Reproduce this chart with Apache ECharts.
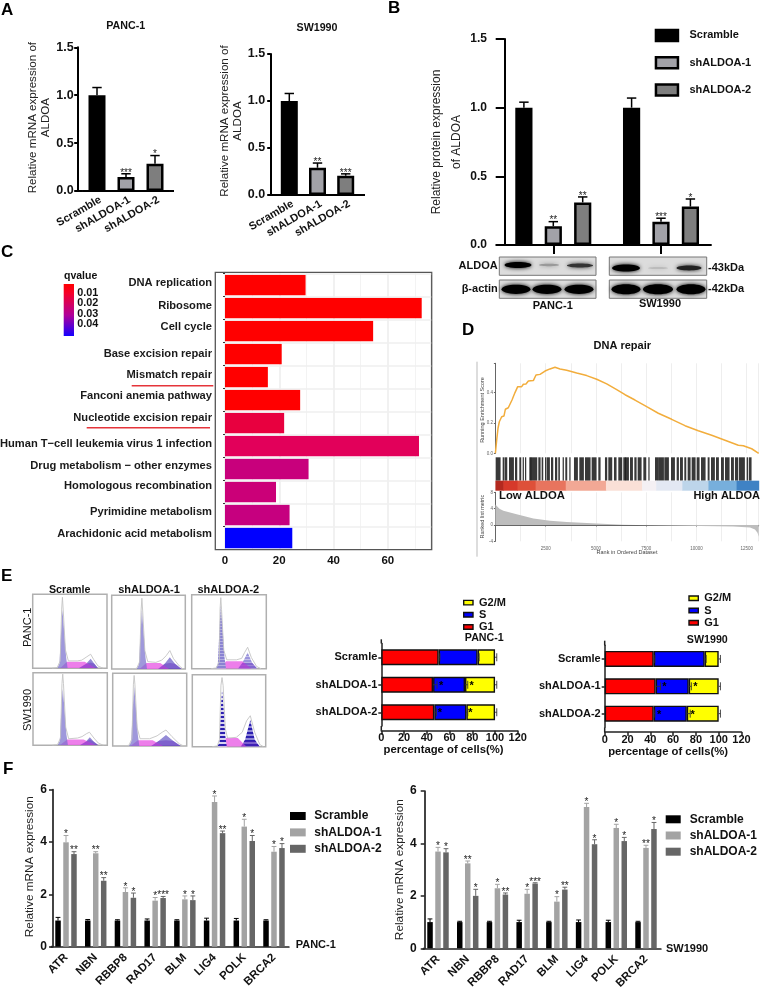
<!DOCTYPE html>
<html><head><meta charset="utf-8">
<style>html,body{margin:0;padding:0;background:#fff}#c{width:761px;height:991px}</style>
<script src="https://cdn.jsdelivr.net/npm/echarts@6/dist/echarts.min.js"></script>
</head><body><div id="c"></div>
<script>
// ---------- DATA ----------
const knockCats = ['Scramble','shALDOA-1','shALDOA-2'];
const aPancVals = [1.0,0.145,0.285], aPancErr = [1.08,0.18,0.37], aPancStars = ['','***','*'];
const aSwVals = [1.0,0.29,0.205], aSwErr = [1.08,0.34,0.225], aSwStars = ['','**','***'];
const bCats = ['PANC-1','SW1990'];
const bScramble = [1.0,1.0], bScrambleErr = [1.04,1.07];
const bSh1 = [0.137,0.17], bSh1Err = [0.17,0.195], bSh1Stars = ['**','***'];
const bSh2 = [0.31,0.28], bSh2Err = [0.35,0.335], bSh2Stars = ['**','*'];
const pathways = ['DNA replication','Ribosome','Cell cycle','Base excision repair','Mismatch repair','Fanconi anemia pathway','Nucleotide excision repair','Human T\u2212cell leukemia virus 1 infection','Drug metabolism \u2212 other enzymes','Homologous recombination','Pyrimidine metabolism','Arachidonic acid metabolism'];
const pathwayCounts = [29.7,72.5,54.6,20.9,15.8,27.7,21.8,71.5,30.8,18.8,23.8,24.8];
const pathwayColors = ['#ff0000','#ff0000','#ff0000','#ff0000','#ff0000','#ff0000','#e8003f','#e2005a','#c8007c','#cb0078','#c6007f','#0000ff'];
const pathwayLabelLift = [3.4,2.6,7.4,0,3.4,6,8.6,2,4,10.6,4.6,6];
const qTicks = ['0.01','0.02','0.03','0.04'];
const esCurve = [[0,0],[65,.088],[130,.165],[195,.208],[313,.241],[428,.246],[495,.29],[642,.30],[726,.297],[826,.351],[975,.40],[1110,.439],[1308,.439],[1390,.455],[1522,.457],[1640,.476],[1887,.479],[2020,.516],[2220,.52],[2470,.542],[2716,.556],[2965,.567],[3214,.556],[3547,.547],[4045,.529],[4542,.512],[5040,.488],[5538,.457],[6035,.419],[6450,.386],[6945,.351],[7527,.307],[8105,.264],[8771,.224],[9433,.182],[10095,.149],[10761,.119],[11423,.086],[12085,.053],[12334,.05],[12751,.03],[13100,0]];
const rugRanges = [[13,228],[361,427],[477,560],[676,892],[975,1057],[1190,1256],[1356,1389],[1472,1505],[1687,1754],[1754,2052],[2135,2218],[2301,2351],[2467,2500],[2550,2682],[2765,2848],[2964,3047],[3130,3180],[3345,3378],[3478,3544],[3677,3710],[3909,4075],[4174,4373],[4456,4705],[4788,5004],[5120,5203],[5451,5534],[5617,5783],[5899,5998],[6114,6280],[6363,6446],[6448,6614],[6697,6813],[6912,6995],[7078,7244],[7360,7476],[7609,7642],[7940,8106],[8139,8355],[8404,8603],[8736,8902],[9018,9101],[9184,9300],[9399,9466],[9565,9681],[9764,9930],[10013,10129],[10228,10427],[10560,10626],[10726,10891],[10974,11090],[11223,11339],[11422,11621],[11721,11837],[11919,12052],[12118,12383],[12499,12549],[12616,12715]];
const bandRanges = [[0,400],[400,1100],[1100,2000],[2000,3500],[3500,5500],[5500,7300],[7300,8000],[8000,9300],[9300,10600],[10600,12000],[12000,13100]];
const bandColors = ['#b3291f','#d6392a','#de5039','#e8745e','#f2a895','#fae0d7','#f4f0f4','#e3e8f3','#bdd5ea','#77afdc','#3f82c4'];
const rankMetric = [[0,5],[60,4.6],[200,4.0],[398,3.5],[1060,2.6],[1890,1.6],[2720,1.05],[3550,.73],[5040,.33],[6370,.08],[7030,0],[8520,-.1],[10180,-.25],[11840,-.4],[12670,-.6],[12915,-1.1],[13040,-1.9],[13100,-2.9]];
// cell-cycle histograms (position and height as % of each frame)
const histG1 = [
 [[33,0],[36,6],[38.5,55],[40,79],[42,55],[45,15],[47,0]], [[34,0],[37,6],[39.5,55],[41,80],[43,55],[46,15],[48,0]], [[32,0],[35,6],[37.5,60],[39,86],[41,60],[44,15],[46,0]],
 [[33,0],[36,6],[38.5,55],[40,78],[42,55],[45,15],[47,0]], [[22,0],[25,6],[27.5,58],[29,82],[31,58],[34,15],[36,0]], [[34,0],[37,6],[39,55],[40.5,79],[42.5,55],[45,15],[47,0]]];
const histS = [
 [[37,0],[46,9],[70,9],[85,0]], [[38,0],[47,8],[66,8],[78,0]], [[37,0],[46,10],[68,10],[80,0]],
 [[36,0],[46,8],[68,8],[85,0]], [[24,0],[34,8],[54,8],[68,0]], [[36,0],[46,12],[62,12],[74,0]]];
const histG2 = [
 [[62,0],[72,6],[78,13],[83,6],[88,0]], [[63,0],[72,7],[79,16],[86,7],[95,0]], [[62,0],[68,8],[75,22],[81,8],[88,0]],
 [[63,0],[71,5],[76.5,11],[82,5],[88,0]], [[52,0],[62,7],[72,15],[82,7],[92,0]], [[66,0],[72,10],[79,37],[85,10],[92,0]]];
const histOutline = [
 [[26,0],[33,1],[37,10],[39,80],[40,96],[41,80],[44,25],[48,10],[60,10],[66,11],[72,15],[78,19],[82,12],[88,3],[95,0]],
 [[27,0],[34,1],[38,10],[40,80],[41,96],[42,80],[45,25],[49,10],[60,9],[68,12],[74,18],[79,25],[84,14],[92,4],[97,0]],
 [[26,0],[33,1],[37,10],[38,80],[39,96],[40,80],[43,25],[47,12],[60,12],[67,14],[71,22],[75,29],[80,15],[87,3],[93,0]],
 [[26,0],[33,1],[37,10],[39,85],[40,98],[41,85],[44,25],[48,9],[60,10],[66,12],[72,16],[76,18],[82,10],[88,3],[95,0]],
 [[15,0],[22,1],[26,10],[28,85],[29,97],[30,85],[33,25],[37,10],[50,10],[60,14],[67,19],[72,22],[80,13],[90,3],[96,0]],
 [[27,0],[34,1],[37,10],[39,85],[40.5,96],[42,85],[45,25],[48,12],[60,13],[68,20],[74,36],[79,43],[85,20],[92,3],[97,0]]];
const histFrames = [[32.7,594.3,74.3,74],[111.7,595.3,73.6,73.7],[191.7,594.7,74.6,74],[33,672.7,74.3,72.6],[112.7,673.3,74,72.7],[192.3,674.7,73.4,72]];
const cellCats = ['Scramle','shALDOA-1','shALDOA-2'];
const pancG1 = [50.4,45.5,46.6], pancS = [34.3,28.1,28.2], pancG2 = [15.3,26.4,25.2];
const pancG1Err = [51.5,49,48.5], pancSErr = [86,76,76], pancG2Err = [101.5,101.5,101.5];
const pancStars = [[1,52.5],[1,79.5],[2,51.6],[2,78.3]];
const swG1 = [43,44.7,43], swS = [44.7,29,29], swG2 = [12.3,26.3,28];
const swG1Err = [44,49,44], swSErr = [89,76,75], swG2Err = [101.5,101.5,101.5];
const swStars = [[1,52.3],[1,79.5],[2,47.7],[2,77.2]];
const genes = ['ATR','NBN','RBBP8','RAD17','BLM','LIG4','POLK','BRCA2'];
const f1Scr = [1,1,1,1,1,1,1,1], f1ScrErr = [1.12,1.04,1.03,1.06,1.03,1.09,1.08,1.03];
const f1Sh1 = [3.99,3.57,2.09,1.76,1.81,5.53,4.59,3.63], f1Sh1Err = [4.25,3.63,2.25,1.88,1.94,5.76,4.87,3.83];
const f1Sh2 = [3.54,2.52,1.87,1.86,1.78,4.34,4.04,3.77], f1Sh2Err = [3.63,2.64,2.05,1.92,1.94,4.42,4.25,3.94];
const f1Sh1Stars = ['*','**','*','*','*','*','*','*'], f1Sh2Stars = ['**','**','*','***','*','**','*','*'];
const f2Scr = [1,1,1,1,1,1,1,1], f2ScrErr = [1.12,1.03,1.03,1.07,1.03,1.08,1.07,1.03];
const f2Sh1 = [3.69,3.24,2.29,2.08,1.78,5.39,4.59,3.83], f2Sh1Err = [3.85,3.33,2.44,2.25,1.97,5.53,4.73,3.93];
const f2Sh2 = [3.66,2.0,2.05,2.47,2.24,3.97,4.09,4.55], f2Sh2Err = [3.8,2.25,2.11,2.5,2.33,4.14,4.23,4.8];
const f2Sh1Stars = ['*','**','*','*','*','*','*','**'], f2Sh2Stars = ['*','*','**','***','**','*','*','*'];
// western blot bands: x centre, y centre, half width, half height, colour
const blotBoxes = [[499.3,257,96.7,18.3],[609.3,257,97.4,18.3],[499.3,280,96.7,18.3],[609.3,280,97.4,18.3]];
const blotBands = [[518,265,13.5,3,'#000'],[549,265,10,1.2,'#999'],[580,265.5,13,2,'#333'],
 [626,268,14,3.6,'#000'],[658,268,10,1.1,'#bbb'],[689,268,12.5,2.4,'#222'],
 [516,289.3,14.5,4.6,'#000'],[547,289.3,14.5,4.6,'#000'],[579,289.3,14.5,4.6,'#000'],
 [626,289.3,14.5,5,'#000'],[658,289.3,15,5,'#000'],[691,289.3,14.5,5,'#000']];

// ---------- BUILDERS ----------
const FF = '"Liberation Sans", Arial, sans-serif';
const grid=[], xAxis=[], yAxis=[], series=[], legend=[], gfx=[];
function T(text,x,y,o={}){gfx.push({type:'text',x,y,rotation:o.rot||0,silent:true,z:50,style:{text,fontFamily:FF,fontSize:o.size||11,fontWeight:o.bold===false?'normal':'bold',fill:o.color||'#111',align:o.align||'center',verticalAlign:'middle',lineHeight:o.lh}});}
function L(x1,y1,x2,y2,c='#000',w=2,z=40){gfx.push({type:'line',silent:true,z,shape:{x1,y1,x2,y2},style:{stroke:c,lineWidth:w}});}
function addGrid(l,t,r,b,xa,ya,extra){const i=grid.length;grid.push(Object.assign({left:l,top:t,width:r-l,height:b-t,outerBoundsMode:'none'},extra||{}));xAxis.push(Object.assign({gridIndex:i},xa));yAxis.push(Object.assign({gridIndex:i},ya));return i;}
// error whisker + star, vertical; rows: [cat,value,top]
function errV(i,vals,tops,stars,dx,o={}){
  const data=vals.map((v,k)=>[k,v,tops[k]]);
  series.push({type:'custom',xAxisIndex:i,yAxisIndex:i,z:6,silent:true,clip:false,data,encode:{x:0,y:2},
    renderItem(p,api){const a=api.coord([api.value(0),api.value(1)]),b=api.coord([api.value(0),api.value(2)]);const x=a[0]+dx,cap=o.cap||4.7;
      const st={stroke:o.color||'#000',lineWidth:o.w||1.5};
      const ch=[{type:'line',shape:{x1:x,y1:a[1],x2:x,y2:b[1]},style:st},{type:'line',shape:{x1:x-cap,y1:b[1],x2:x+cap,y2:b[1]},style:st}];
      const s=stars&&stars[p.dataIndex];
      if(s)ch.push({type:'text',x,y:b[1]-(o.lift||1),style:{text:s,fontFamily:FF,fontSize:o.star||10,fill:'#222',align:'center',verticalAlign:'middle'}});
      return {type:'group',children:ch};}});
}
const axisText={color:'#111',fontFamily:FF,fontWeight:'bold'};
function kdPanel(l,axX,r,t,b,vals,errs,stars,labels){
  const i=addGrid(l,t,r,b,
   {type:'category',data:knockCats,axisLine:{lineStyle:{color:'#000',width:2}},axisTick:{length:5,alignWithLabel:true,lineStyle:{width:2,color:'#000'}},axisLabel:Object.assign({},axisText,{rotate:30,fontSize:11,margin:10,interval:0,padding:[0,-4,0,0]})},
   {type:'value',min:0,max:1.5,interval:0.5,offset:l-axX,axisLine:{show:true,lineStyle:{color:'#000',width:2}},axisTick:{show:true,length:3.5,lineStyle:{width:2,color:'#000'}},splitLine:{show:false},
    axisLabel:Object.assign({},axisText,{fontSize:12.5,margin:labels.margin,formatter:v=>v.toFixed(1)}),
    name:labels.name,nameLocation:'middle',nameGap:labels.gap,nameTextStyle:{fontFamily:FF,fontSize:11.6,lineHeight:13,color:'#222',padding:labels.pad}});
  series.push({name:'relative '+labels.title,type:'bar',xAxisIndex:i,yAxisIndex:i,barWidth:17,z:3,data:vals.map((v,k)=>({value:v,itemStyle:{color:['#000','#a2a2a8','#7e7e7e'][k],borderColor:'#000',borderWidth:2.5}}))});
  errV(i,vals,errs,stars,0);
  L(axX-1,b,l,b);L(r,b,labels.end,b);
}
kdPanel(82.5,77.7,169.5,47.3,191,aPancVals,aPancErr,aPancStars,{name:'Relative mRNA expression of\nALDOA',gap:25,pad:[0,0,0,3],title:'PANC-1',end:174,margin:4});
kdPanel(275.2,270.7,359.8,54,195,aSwVals,aSwErr,aSwStars,{name:'Relative mRNA expression of\nALDOA',gap:26,pad:[0,0,0,7],title:'SW1990',end:365,margin:5.5});
T('PANC-1',125.7,26,{size:10.7});T('SW1990',317,28,{size:10.7});

// B
{
 const i=addGrid(499.45,39,714.85,245,
  {type:'category',data:bCats,axisLine:{show:true,lineStyle:{color:'rgba(0,0,0,0)'}},axisTick:{show:true,length:9,alignWithLabel:true,lineStyle:{width:2,color:'#000'}},axisLabel:{show:false}},
  {type:'value',min:0,max:1.5,interval:.5,offset:-5.25,axisLine:{show:true,lineStyle:{color:'#000',width:2}},axisTick:{show:true,length:9,lineStyle:{width:2,color:'#000'}},splitLine:{show:false},
   axisLabel:Object.assign({},axisText,{fontSize:12,margin:17.7,formatter:v=>v.toFixed(1)}),
   name:'Relative protein expression\nof ALDOA',nameLocation:'middle',nameGap:30,nameTextStyle:{fontFamily:FF,fontSize:12,lineHeight:20,color:'#222'}});
 const st=c=>({color:c,borderColor:'#000',borderWidth:2.5});
 series.push({name:'Scramble',type:'bar',xAxisIndex:i,yAxisIndex:i,barWidth:17.2,barGap:'71%',z:3,data:bScramble,itemStyle:st('#000')});
 series.push({name:'shALDOA-1',type:'bar',xAxisIndex:i,yAxisIndex:i,barWidth:17.2,barGap:'71%',z:3,data:bSh1,itemStyle:st('#a2a2a8')});
 series.push({name:'shALDOA-2',type:'bar',xAxisIndex:i,yAxisIndex:i,barWidth:17.2,barGap:'71%',z:3,data:bSh2,itemStyle:st('#7e7e7e')});
 errV(i,bScramble,bScrambleErr,null,-29.4);
 errV(i,bSh1,bSh1Err,bSh1Stars,0);
 errV(i,bSh2,bSh2Err,bSh2Stars,29.4);
 L(495.7,245,711.7,245);
 legend.push({left:654.7,top:28.7,padding:0,orient:'vertical',itemWidth:22,itemHeight:11,itemGap:13.8,selectedMode:false,icon:'rect',
  textStyle:{fontFamily:FF,fontSize:11,fontWeight:'bold',color:'#111',lineHeight:11,padding:[0,0,0,6.5]},
  data:[{name:'Scramble',itemStyle:st('#000')},{name:'shALDOA-1',itemStyle:st('#a2a2a8')},{name:'shALDOA-2',itemStyle:st('#7e7e7e')}]});
 blotBoxes.forEach(b=>gfx.push({type:'rect',silent:true,z:10,shape:{x:b[0],y:b[1],width:b[2],height:b[3]},style:{fill:'#dcdcdc',stroke:'#777',lineWidth:1}}));
 blotBands.forEach(b=>gfx.push({type:'ellipse',silent:true,z:11,shape:{cx:b[0],cy:b[1],rx:b[2],ry:b[3]},style:{fill:b[4],shadowBlur:4,shadowColor:b[4]}}));
 T('ALDOA',497.7,266,{align:'right'});T('\u03b2-actin',497.7,289,{align:'right'});
 T('-43kDa',708,268,{align:'left'});T('-42kDa',708,289,{align:'left'});
 T('PANC-1',552.7,305.7);T('SW1990',660,304);
}

// C
{
 const labelRich={};
 pathwayLabelLift.forEach((h,k)=>{labelRich['p'+k]={color:'#1a1a1a',fontFamily:FF,fontWeight:'bold',fontSize:11.15,padding:[0,0,h,0]};});
 const i=addGrid(225,273,431.2,548.8,
  {type:'value',min:0,max:76,interval:20,axisLine:{show:false},axisTick:{show:false},
   axisLabel:Object.assign({},axisText,{fontSize:11.5,margin:6,formatter:v=>v%20===0?String(v):''}),
   splitLine:{show:true,lineStyle:{color:'#ececec',width:1.5}},minorTick:{show:false,splitNumber:2},minorSplitLine:{show:true,lineStyle:{color:'#f3f3f3',width:1}}},
  {type:'category',inverse:true,offset:10,data:pathways,
   axisLine:{show:false},axisTick:{show:true,length:2,lineStyle:{color:'#333',width:1}},
   axisLabel:{color:'#1a1a1a',fontFamily:FF,fontWeight:'bold',fontSize:11.15,margin:3,interval:0,rich:labelRich,formatter:(v,k)=>'{p'+k+'|'+v+'}'}});
 series.push({name:'guides',type:'bar',xAxisIndex:i,yAxisIndex:i,data:[],z:1,silent:true,markLine:{silent:true,symbol:'none',label:{show:false},lineStyle:{color:'#efefef',width:1.5,type:'solid'},data:pathways.map(p=>({yAxis:p}))}});
 series.push({name:'Gene count',type:'bar',xAxisIndex:i,yAxisIndex:i,barWidth:20.6,z:3,data:pathwayCounts.map((v,k)=>({value:v,itemStyle:{color:pathwayColors[k]}}))});
 gfx.push({type:'rect',silent:true,z:5,shape:{x:215.3,y:272.3,width:216.4,height:277.4},style:{fill:'none',stroke:'#555',lineWidth:1.3}});
 gfx.push({type:'rect',silent:true,z:5,shape:{x:63.7,y:284,width:10.3,height:52},style:{fill:new echarts.graphic.LinearGradient(0,0,0,1,[{offset:0,color:'#ff0000'},{offset:.18,color:'#f5002a'},{offset:.6,color:'#b0009a'},{offset:1,color:'#1400ff'}])}});
 T('qvalue',64,276,{align:'left',size:10.5});
 qTicks.forEach((q,k)=>T(q,77.3,[292.7,303.3,314,324.3][k],{align:'left',size:10.8}));
 L(131.7,385.7,213.3,385.7,'#e5343a',1.4);L(86.7,427.7,210,427.7,'#e5343a',1.4);
}

// D
{
 const light={color:'#eeeeee',width:1};
 const XT={type:'value',min:0,max:13100,interval:2500,axisLine:{show:false},axisTick:{show:false},axisLabel:{show:false},splitLine:{show:true,lineStyle:light},minorTick:{show:false,splitNumber:2},minorSplitLine:{show:true,lineStyle:light}};
 const a=addGrid(495.4,363.3,758.7,453.3,XT,{type:'value',min:0,max:.593,interval:.2,axisLine:{show:true,lineStyle:{color:'#666',width:1}},axisTick:{show:true,length:1.5,lineStyle:{color:'#666'}},splitLine:{show:false},
   axisLabel:{fontFamily:FF,fontSize:4.5,color:'#666',margin:2.5,formatter:v=>Math.abs(v*5-Math.round(v*5))<1e-6?v.toFixed(1):''}});
 series.push({name:'Running Enrichment Score',type:'line',xAxisIndex:a,yAxisIndex:a,data:esCurve,showSymbol:false,symbol:'none',clip:false,lineStyle:{color:'#f2ad3c',width:1.5},z:4});
 const r=addGrid(495.4,457.3,758.7,490.7,{type:'value',min:0,max:13100,show:false},{type:'value',min:0,max:1,show:false});
 series.push({name:'hits',type:'custom',xAxisIndex:r,yAxisIndex:r,silent:true,data:rugRanges,encode:{x:[0,1]},renderItem(p,api){const s=api.coord([api.value(0),1]),e=api.coord([api.value(1),.3]);return {type:'rect',shape:{x:s[0],y:s[1],width:e[0]-s[0]+.6,height:e[1]-s[1]},style:{fill:'rgba(0,0,0,.78)'}};}});
 series.push({name:'rank colours',type:'custom',xAxisIndex:r,yAxisIndex:r,silent:true,data:bandRanges,encode:{x:[0,1]},renderItem(p,api){const s=api.coord([api.value(0),.3]),e=api.coord([api.value(1),0]);return {type:'rect',shape:{x:s[0],y:s[1],width:e[0]-s[0]+.5,height:e[1]-s[1]},style:{fill:bandColors[p.dataIndex]}};}});
 const m=addGrid(495.4,492.3,758.7,541.3,Object.assign({},XT,{offset:2,axisLine:{show:true,lineStyle:{color:'#666',width:1}},axisTick:{show:true,length:1.5,lineStyle:{color:'#666'}},
     axisLabel:{show:true,fontFamily:FF,fontSize:4.5,color:'#666',margin:3,formatter:v=>v%2500===0&&v>0?String(v):''}}),
   {type:'value',min:-4,max:8,interval:4,axisLine:{show:true,lineStyle:{color:'#666',width:1}},axisTick:{show:true,length:1.5,lineStyle:{color:'#666'}},splitLine:{show:false},axisLabel:{fontFamily:FF,fontSize:4.5,color:'#666',margin:2.5}});
 series.push({name:'Ranked list metric',type:'line',xAxisIndex:m,yAxisIndex:m,data:rankMetric,showSymbol:false,symbol:'none',lineStyle:{width:0},areaStyle:{color:'#bdbdbd',opacity:1},z:3});
 L(477,361.7,477,556.7,'#bbb',1);
 T('DNA repair',622.3,345.7,{size:11});
 T('Low ALDOA',499,496.3,{align:'left',size:11.3});T('High ALDOA',760,496.3,{align:'right',size:11});
 T('Rank in Ordered Dataset',627,552.3,{size:5.5,bold:false,color:'#444'});
 T('Running Enrichment Score',482.3,410,{size:5.5,bold:false,rot:Math.PI/2,color:'#444'});
 T('Ranked list metric',482.3,516.7,{size:5.5,bold:false,rot:Math.PI/2,color:'#444'});
}

// E histograms
function stripes(a,b,h){const c=document.createElement('canvas');c.width=4;c.height=h;const g=c.getContext('2d');g.fillStyle=a;g.fillRect(0,0,4,h);g.fillStyle=b;g.fillRect(0,0,4,Math.ceil(h/2));return c;}
histFrames.forEach((f,n)=>{
 const i=addGrid(f[0],f[1],f[0]+f[2],f[1]+f[3],{type:'value',min:0,max:100,show:false},{type:'value',min:0,max:100,show:false},{show:true,borderColor:'#b0b0b0',borderWidth:1.5,backgroundColor:'#fff'});
 const g1col=n===2?{image:stripes('#b4aee2','#8a83d2',3),repeat:'repeat'}:n===5?{image:stripes('#d6d2f0','#2c1fb0',4),repeat:'repeat'}:'rgba(122,112,205,.72)';
 const g2col=n===2?{image:stripes('#c4bfe8','#9a94dc',3),repeat:'repeat'}:n===5?{image:stripes('#9088d8','#2c1fb0',4),repeat:'repeat'}:'rgba(98,84,195,.68)';
 const area=(name,data,color,z)=>series.push({name,type:'line',xAxisIndex:i,yAxisIndex:i,data,z,symbol:'none',silent:true,lineStyle:{width:0},areaStyle:{color,opacity:1}});
 area('G2 fit',histG2[n],g2col,3);
 area('S fit',histS[n],'rgba(232,90,228,.78)',4);
 area('G1 fit',histG1[n],g1col,5);
 series.push({name:'G2 overlap',type:'line',xAxisIndex:i,yAxisIndex:i,data:histG2[n].map(p=>[p[0],Math.min(p[1],8)]),z:5,symbol:'none',silent:true,lineStyle:{width:0},areaStyle:{color:'rgba(90,30,190,.55)'}});
 series.push({name:'measured',type:'line',xAxisIndex:i,yAxisIndex:i,data:histOutline[n],z:6,symbol:'none',silent:true,lineStyle:{color:'#c4c4c4',width:.9}});
});
T('Scramle',69.7,590,{size:10.7});T('shALDOA-1',149,590.3);T('shALDOA-2',228.3,590.3);
T('PANC-1',28.3,627.3,{bold:false,rot:Math.PI/2});T('SW1990',28,710,{bold:false,rot:Math.PI/2});

// E stacked
function cellPanel(l,t,b,r,g1,s,g2,eg1,es,eg2,stars,o){
 const i=addGrid(l,t,r,b,
  {type:'value',min:0,max:120,interval:20,offset:o.xOff,axisLine:{show:true,lineStyle:{color:'#222',width:1.5}},axisTick:{show:true,length:4,lineStyle:{color:'#222',width:1.5}},splitLine:{show:false},
   axisLabel:Object.assign({},axisText,{fontSize:11,margin:2}),name:'percentage of cells(%)',nameLocation:'middle',nameGap:14,nameTextStyle:{fontFamily:FF,fontWeight:'bold',fontSize:11.3,color:'#111',padding:[0,o.namePad||0,0,0]}},
  {type:'category',inverse:true,data:cellCats,axisLine:{show:true,onZero:false,lineStyle:{color:'#222',width:1.5}},axisTick:{show:true,length:3,alignWithLabel:true,lineStyle:{color:'#222',width:1.5}},axisLabel:Object.assign({},axisText,{fontSize:11,margin:4,interval:0})});
 const st=c=>({color:c,borderColor:'#111',borderWidth:1.4});
 [['G1',g1,'#ff0000'],['S',s,'#0000ff'],['G2/M',g2,'#ffff00']].forEach(d=>series.push({name:d[0],type:'bar',stack:'cell'+i,barWidth:16,xAxisIndex:i,yAxisIndex:i,data:d[1],itemStyle:st(d[2]),z:3}));
 const cum=[g1,g1.map((v,k)=>v+s[k]),g1.map((v,k)=>v+s[k]+g2[k])],errs=[eg1,es,eg2];
 cum.forEach((c,n)=>series.push({type:'custom',xAxisIndex:i,yAxisIndex:i,z:6,silent:true,clip:false,data:c.map((v,k)=>[k,v,errs[n][k]]),encode:{y:0,x:2},
  renderItem(p,api){const a=api.coord([api.value(1),api.value(0)]),e=api.coord([api.value(2),api.value(0)]);const sty={stroke:'#333',lineWidth:.9};return {type:'group',children:[{type:'line',shape:{x1:a[0],y1:a[1],x2:e[0],y2:a[1]},style:sty},{type:'line',shape:{x1:e[0],y1:a[1]-4,x2:e[0],y2:a[1]+4},style:sty}]};}}));
 series.push({type:'custom',xAxisIndex:i,yAxisIndex:i,z:7,silent:true,data:stars.map(s=>[s[1],s[0]]),encode:{x:0,y:1},renderItem(p,api){const a=api.coord([api.value(0),api.value(1)]);return {type:'text',x:a[0],y:a[1]+1,style:{text:'*',fontFamily:FF,fontSize:11,fontWeight:'bold',fill:'#000',align:'center',verticalAlign:'middle'}};}});
 L(l,o.top,l,t,'#222',1.5);L(l,b,l,b+o.xOff,'#222',1.5);
 legend.push({left:o.lx,top:o.ly,padding:0,orient:'vertical',itemWidth:9.3,itemHeight:4.5,itemGap:0,selectedMode:false,icon:'rect',
  textStyle:{fontFamily:FF,fontSize:11,fontWeight:'bold',color:'#111',lineHeight:12.2,padding:[0,0,0,1]},
  data:[{name:'G2/M',itemStyle:st('#ffff00')},{name:'S',itemStyle:st('#0000ff')},{name:'G1',itemStyle:st('#ff0000')}]});
}
cellPanel(381.3,643.5,726,517.8,pancG1,pancS,pancG2,pancG1Err,pancSErr,pancG2Err,pancStars,{xOff:4.7,top:639.3,lx:463,ly:596.5,namePad:12});
cellPanel(604.7,645.3,727.3,741.5,swG1,swS,swG2,swG1Err,swSErr,swG2Err,swStars,{xOff:4.7,top:640.7,lx:688.3,ly:592.2,namePad:10});
T('PANC-1',484.3,638.3,{size:10.7});T('SW1990',707.3,640,{size:10.7});

// F
function genePanel(l,r,axX,t,b,sc,sce,s1,s1e,s2,s2e,st1,st2,o){
 const i=addGrid(l,t,r,b,
  {type:'category',data:genes,axisLine:{lineStyle:{color:'#222',width:1.7}},axisTick:{length:4,alignWithLabel:true,lineStyle:{color:'#222',width:1.5}},axisLabel:Object.assign({},axisText,{fontSize:11.5,rotate:45,margin:9,interval:0})},
  {type:'value',min:0,max:6,interval:2,offset:l-axX,axisLine:{show:true,lineStyle:{color:'#222',width:1.7}},axisTick:{show:true,length:4,lineStyle:{color:'#222',width:1.5}},splitLine:{show:false},axisLabel:Object.assign({},axisText,{fontSize:12,margin:o.ym}),
   name:'Relative mRNA expression',nameLocation:'middle',nameGap:o.gap,nameTextStyle:{fontFamily:FF,fontSize:11.8,color:'#222',padding:[0,0,0,o.pad]}});
 [['Scramble',sc,'#000'],['shALDOA-1',s1,'#a3a3a3'],['shALDOA-2',s2,'#666666']].forEach(d=>series.push({name:d[0],type:'bar',xAxisIndex:i,yAxisIndex:i,barWidth:5.5,barGap:'45%',data:d[1],itemStyle:{color:d[2]},z:3}));
 const eo={cap:2.4,w:1,star:10,lift:1};
 errV(i,sc,sce,null,-8,Object.assign({color:'#000'},eo));
 errV(i,s1,s1e,st1,0,Object.assign({color:'#a3a3a3'},eo));
 errV(i,s2,s2e,st2,8,Object.assign({color:'#666'},eo));
 L(axX-1,b,l,b,'#222',1.7);
 legend.push({left:o.lx,top:o.ly,padding:0,orient:'vertical',itemWidth:o.lw,itemHeight:8,itemGap:o.lg,selectedMode:false,icon:'rect',
  textStyle:{fontFamily:FF,fontSize:12,fontWeight:'bold',color:'#111',lineHeight:8,padding:[0,0,0,o.ltp]},
  data:[{name:'Scramble',itemStyle:{color:'#000',borderWidth:0}},{name:'shALDOA-1',itemStyle:{color:'#a3a3a3',borderWidth:0}},{name:'shALDOA-2',itemStyle:{color:'#666666',borderWidth:0}}]});
}
genePanel(51.15,288.85,53,789.7,946.7,f1Scr,f1ScrErr,f1Sh1,f1Sh1Err,f1Sh2,f1Sh2Err,f1Sh1Stars,f1Sh2Stars,{gap:17,pad:3,ym:6,lx:290,ly:810,lw:15.7,lg:4.4,ltp:3.6});
genePanel(423.15,660.85,424.7,791,948.3,f2Scr,f2ScrErr,f2Sh1,f2Sh1Err,f2Sh2,f2Sh2Err,f2Sh1Stars,f2Sh2Stars,{gap:17.7,pad:0,ym:8,lx:665.7,ly:813.3,lw:15,lg:4.2,ltp:4});
T('PANC-1',295.7,945.3,{align:'left'});T('SW1990',666,949.3,{align:'left'});

// panel letters
[['A',1,10],['B',388,8],['C',1,252],['D',462,330],['E',1,576],['F',3,769]].forEach(p=>T(p[0],p[1],p[2],{align:'left',size:17,color:'#000'}));

const chart=echarts.init(document.getElementById('c'),null,{renderer:'canvas'});
chart.setOption({animation:false,backgroundColor:'#fff',textStyle:{fontFamily:FF},grid,xAxis,yAxis,series,legend,graphic:{elements:gfx}});
</script></body></html>
